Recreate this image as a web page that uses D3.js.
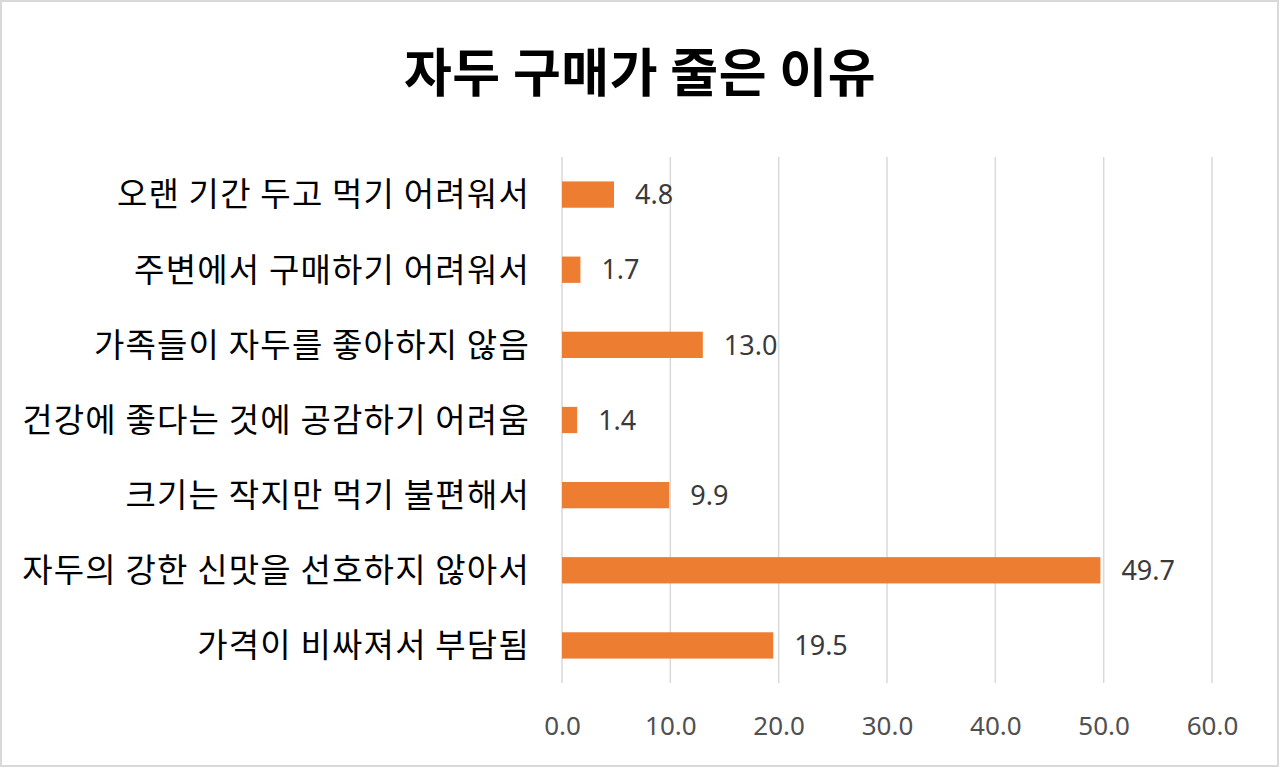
<!DOCTYPE html>
<html>

<head>
    <meta charset="utf-8">
    <title>자두 구매가 줄은 이유</title>
    <script src="https://cdn.jsdelivr.net/npm/d3@7/dist/d3.min.js"></script>
    <style>
        html, body { margin: 0; padding: 0; background: #fff; }
        svg { display: block; }
    </style>
</head>

<body>
    <div id="chart"></div>
    <script>
        // data, top row first
        const categories = [
            "오랜 기간 두고 먹기 어려워서",
            "주변에서 구매하기 어려워서",
            "가족들이 자두를 좋아하지 않음",
            "건강에 좋다는 것에 공감하기 어려움",
            "크기는 작지만 먹기 불편해서",
            "자두의 강한 신맛을 선호하지 않아서",
            "가격이 비싸져서 부담됨"
        ];
        const values = [4.8, 1.7, 13.0, 1.4, 9.9, 49.7, 19.5];
        const tickValues = [0, 10, 20, 30, 40, 50, 60];
        const title = "자두 구매가 줄은 이유";

        const width = 1280, height = 768;
        const plot = { left: 562, right: 1212, top: 157, bottom: 683 };

        const svg = d3.select("#chart").append("svg")
            .attr("width", width)
            .attr("height", height);

        // chart border
        svg.append("rect")
            .attr("x", 1).attr("y", 1)
            .attr("width", width - 3).attr("height", height - 3)
            .attr("fill", "#fff")
            .attr("stroke", "#d9d9d9")
            .attr("stroke-width", 2);

        const x = d3.scaleLinear()
            .domain([0, 60])
            .range([plot.left, plot.right]);

        const y = d3.scaleBand()
            .domain(categories)
            .range([plot.top, plot.bottom])
            .paddingInner(0.65)
            .paddingOuter(0.325);

        // vertical gridlines
        svg.append("g")
            .selectAll("line")
            .data(tickValues)
            .join("line")
            .attr("x1", d => x(d)).attr("x2", d => x(d))
            .attr("y1", plot.top).attr("y2", plot.bottom)
            .attr("stroke", "#d9d9d9")
            .attr("stroke-width", 1.5);

        // x tick labels
        const xAxis = d3.axisBottom(x)
            .tickValues(tickValues)
            .tickFormat(d3.format(".1f"))
            .tickSize(0)
            .tickPadding(0);

        const gx = svg.append("g")
            .attr("transform", `translate(0,${plot.bottom})`)
            .call(xAxis);
        gx.select(".domain").remove();
        gx.selectAll("text")
            .attr("y", 43)
            .attr("dy", "0.35em")
            .attr("fill", "#505050")
            .style("font-family", "'Noto Sans', sans-serif")
            .style("font-size", "26px");

        // category labels
        const yAxis = d3.axisLeft(y).tickSize(0).tickPadding(0);
        const gy = svg.append("g")
            .attr("transform", `translate(${plot.left - 32},0)`)
            .call(yAxis);
        gy.select(".domain").remove();
        gy.selectAll("text")
            .attr("fill", "#000")
            .attr("dy", "0.36em")
            .style("font-family", "'Noto Sans CJK KR', sans-serif")
            .style("font-size", "33px")
            .style("letter-spacing", "1.2px");

        // bars
        const rows = categories.map((c, i) => ({ cat: c, val: values[i] }));

        svg.append("g")
            .selectAll("rect")
            .data(rows)
            .join("rect")
            .attr("x", x(0))
            .attr("y", d => y(d.cat))
            .attr("width", d => x(d.val) - x(0))
            .attr("height", y.bandwidth())
            .attr("fill", "#ed7d31");

        // value labels
        svg.append("g")
            .selectAll("text")
            .data(rows)
            .join("text")
            .attr("x", d => x(d.val) + 21)
            .attr("y", d => y(d.cat) + y.bandwidth() / 2)
            .attr("dy", "0.36em")
            .attr("fill", "#3a3a3a")
            .style("font-family", "'Noto Sans', sans-serif")
            .style("font-size", "27px")
            .text(d => d3.format(".1f")(d.val));

        // title
        svg.append("text")
            .attr("x", width / 2)
            .attr("y", 73)
            .attr("text-anchor", "middle")
            .attr("dy", "0.36em")
            .attr("fill", "#000")
            .style("font-family", "'Noto Sans CJK KR', sans-serif")
            .style("font-weight", "bold")
            .style("font-size", "52px")
            .style("letter-spacing", "0.5px")
            .text(title);
    </script>
</body>

</html>
